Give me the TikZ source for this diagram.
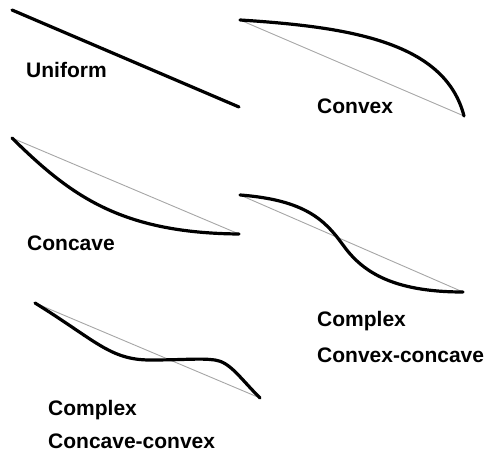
\documentclass[tikz,border=0pt]{standalone}
\usepackage{fontspec}
\setmainfont{Liberation Sans}
\begin{document}
\begin{tikzpicture}[x=1pt,y=-1pt,
  thick curve/.style={line width=3.2pt,line cap=round,line join=round},
  thin chord/.style={line width=0.9pt,gray!70},
  lab/.style={anchor=west,inner sep=0pt,font=\fontsize{21}{25}\selectfont\bfseries}]
\useasboundingbox (0,0) rectangle (488,454);
% Uniform
\coordinate (u1) at (12,10); \coordinate (u2) at (239,107);
\draw[thick curve] (u1) -- (u2);
\node[lab] (tu) at (26,70) {Uniform};
% Convex
\coordinate (v1) at (240,20); \coordinate (v2) at (464,116);
\draw[thin chord] (v1) -- (v2);
\draw[thick curve] (v1) .. controls (350,27) and (445,42) .. (v2);
\node[lab] (tv) at (317,106) {Convex};
% Concave
\coordinate (c1) at (12,138); \coordinate (c2) at (239,234);
\draw[thin chord] (c1) -- (c2);
\draw[thick curve] (c1) .. controls (70,195) and (120,233) .. (c2);
\node[lab] (tc) at (27,243) {Concave};
% Convex-concave
\coordinate (x1) at (240,195); \coordinate (xm) at (343,245); \coordinate (x2) at (463,292);
\draw[thin chord] (x1) -- (x2);
\draw[thick curve] (x1) .. controls (305,200) and (325,220) .. (xm) .. controls (361,270) and (390,292) .. (x2);
\node[lab] (tx1) at (317,321) {Complex};
\node[lab] (tx2) at (317,355) {Convex-concave};
% Concave-convex
\coordinate (y1) at (35,303); \coordinate (ym) at (150,360); \coordinate (yn) at (215,360); \coordinate (y2) at (260,398);
\draw[thin chord] (y1) -- (y2);
\draw[thick curve] (y1) .. controls (95,340) and (110,360) .. (ym) .. controls (185,360) and (200,358) .. (yn) .. controls (230,362) and (240,378) .. (y2);
\node[lab] (ty1) at (48,410) {Complex};
\node[lab] (ty2) at (48,441) {Concave-convex};
\end{tikzpicture}
\end{document}
